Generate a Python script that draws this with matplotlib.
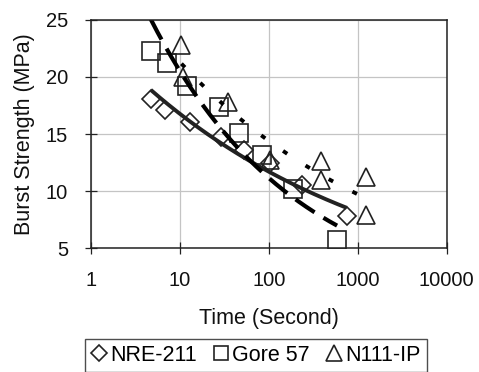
import numpy as np
import matplotlib
matplotlib.use("Agg")
import matplotlib.pyplot as plt
from matplotlib.lines import Line2D

plt.rcParams["font.family"] = ["Liberation Sans", "DejaVu Sans"]

# burst strength (MPa) vs time to failure (s)
nre_t = [4.7, 6.8, 13.1, 28.6, 53, 102, 233, 750]
nre_p = [18.1, 17.1, 16.05, 14.75, 13.6, 12.45, 10.5, 7.8]

gore_t = [4.7, 7.2, 11.9, 27.5, 46.4, 84, 185, 585]
gore_p = [22.3, 21.2, 19.2, 17.4, 15.06, 13.16, 10.16, 5.72]

n111_t = [10.4, 10.8, 34.7, 103, 381, 381, 1253, 1253]
n111_p = [22.8, 20.0, 17.8, 12.7, 12.6, 11.0, 11.2, 7.9]

x_ticks = [1, 10, 100, 1000, 10000]
x_tick_labels = ["1", "10", "100", "1000", "10000"]
y_ticks = [5, 10, 15, 20, 25]

INK = "#222222"


def power_fit(t, p):
    """Excel style power trendline: ln p = ln a + b ln t."""
    b, ln_a = np.polyfit(np.log(t), np.log(p), 1)
    xs = np.logspace(np.log10(min(t)), np.log10(max(t)), 200)
    return xs, np.exp(ln_a) * xs ** b


fig = plt.figure(figsize=(4.79, 3.72), dpi=100)
ax = fig.add_axes([91 / 479, 1 - 248.3 / 372, (446.7 - 91) / 479, (248.3 - 19.8) / 372])

mk = dict(linestyle="none", mfc="none", mec=INK, mew=1.2)
ax.plot(nre_t, nre_p, marker="D", ms=9, **mk)
ax.plot(gore_t, gore_p, marker="s", ms=12.5, **mk)
ax.plot(n111_t, n111_p, marker="^", ms=13.5, **mk)

xs, ys = power_fit(nre_t, nre_p)
ax.plot(xs, ys, color=INK, lw=2.8, solid_capstyle="butt")
xs, ys = power_fit(gore_t, gore_p)
ax.plot(xs, ys, color="black", lw=3.0, dashes=(5.5, 2.5))
xs, ys = power_fit(n111_t, n111_p)
ax.plot(xs, ys, color="black", lw=2.8, dashes=(1.3, 5.6))

ax.set_xscale("log")
ax.set_xlim(1, 10000)
ax.set_ylim(5, 25)
ax.set_xticks(x_ticks)
ax.set_xticklabels(x_tick_labels)
ax.set_yticks(y_ticks)
ax.minorticks_off()
ax.tick_params(direction="inout", length=9, width=0.9, color=INK,
               labelsize=14.5, pad=12, labelcolor="#111111")
ax.grid(True, color="#c4c4c4", lw=0.9)
ax.set_axisbelow(True)
for s in ax.spines.values():
    s.set_color(INK)
    s.set_linewidth(1.1)

ax.set_xlabel("Time (Second)", fontsize=15.5, labelpad=13, color="#111111")
ax.set_ylabel("Burst Strength (MPa)", fontsize=15.5, labelpad=8, color="#111111")

handles = [
    Line2D([], [], marker="D", ms=8, **mk),
    Line2D([], [], marker="s", ms=10, **mk),
    Line2D([], [], marker="^", ms=11, **mk),
]
leg = fig.legend(handles, ["NRE-211", "Gore 57", "N111-IP"],
                 loc="upper left", bbox_to_anchor=(85 / 479, 1 - 338.5 / 372),
                 ncol=3, fontsize=15.5, frameon=True, fancybox=False,
                 handlelength=0.7, handletextpad=0.15, columnspacing=0.8,
                 borderpad=0.3, borderaxespad=0)
leg.get_frame().set_edgecolor(INK)
leg.get_frame().set_linewidth(1.0)

fig.savefig("out.png", dpi=100)
